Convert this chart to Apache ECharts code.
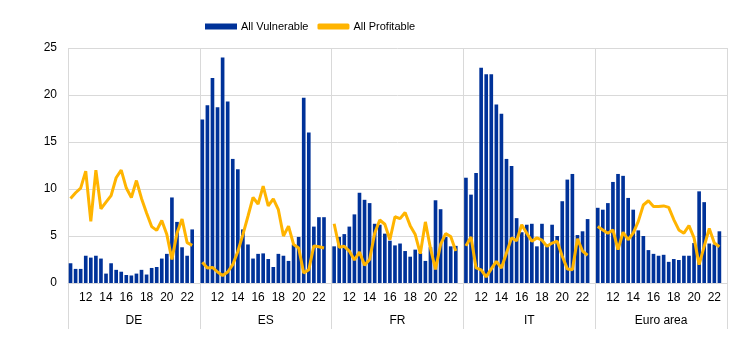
<!DOCTYPE html>
<html><head><meta charset="utf-8">
<script src="https://cdn.jsdelivr.net/npm/echarts@6/dist/echarts.min.js"></script>
<style>html,body{margin:0;padding:0;background:#fff}#c{width:744px;height:350px}</style>
</head><body><div id="c"></div>
<script>
const groups = ['DE', 'ES', 'FR', 'IT', 'Euro area'];
const periods = ['10H2','11H1','11H2','12H1','12H2','13H1','13H2','14H1','14H2','15H1','15H2','16H1','16H2',
                 '17H1','17H2','18H1','18H2','19H1','19H2','20H1','20H2','21H1','21H2','22H1','22H2'];
const yearTicks = ['12', '14', '16', '18', '20', '22'];
const yTicks = [0, 5, 10, 15, 20, 25];

const vulnDE = [2.1, 1.5, 1.5, 2.9, 2.7, 2.9, 2.6, 1.0, 2.1, 1.4, 1.2, 0.85, 0.8, 1.0, 1.4, 0.9, 1.6, 1.7, 2.6, 3.1, 9.1, 6.5, 3.8, 2.9, 5.7];
const vulnES = [17.4, 18.9, 21.8, 18.7, 24.0, 19.3, 13.2, 12.1, 5.7, 4.1, 2.6, 3.1, 3.15, 2.55, 1.7, 3.1, 2.9, 2.35, 4.1, 4.9, 19.7, 16.0, 6.0, 7.0, 7.0];
const vulnFR = [3.9, 4.9, 5.2, 6.0, 7.3, 9.6, 8.85, 8.5, 6.3, 6.2, 5.25, 4.5, 4.0, 4.2, 3.4, 2.8, 3.55, 3.2, 2.35, 3.8, 8.8, 7.85, 4.9, 3.9, 3.95];
const vulnIT = [11.2, 9.4, 11.7, 22.9, 22.2, 22.2, 19.0, 18.0, 13.2, 12.45, 6.9, 5.4, 6.2, 6.3, 3.9, 6.3, 4.1, 6.2, 5.0, 8.7, 11.0, 11.6, 5.1, 5.5, 6.8];
const vulnEA = [8.0, 7.8, 8.5, 10.75, 11.6, 11.4, 9.05, 7.8, 5.6, 5.0, 3.5, 3.1, 2.9, 3.0, 2.25, 2.55, 2.45, 2.9, 2.9, 4.25, 9.75, 8.6, 4.2, 4.1, 5.5];

const profDE = [9.0, 9.6, 10.1, 11.9, 6.55, 12.0, 7.9, 8.6, 9.3, 11.2, 12.0, 10.1, 9.1, 10.9, 9.0, 7.45, 6.0, 5.6, 6.65, 5.15, 2.5, 5.3, 6.8, 4.3, 4.0];
const profES = [2.2, 1.6, 1.65, 1.17, 0.8, 1.17, 1.95, 3.35, 5.15, 7.1, 9.1, 8.4, 10.3, 8.2, 8.95, 7.8, 5.0, 6.05, 4.1, 3.72, 1.06, 1.41, 3.95, 3.85, 3.72];
const profFR = [6.3, 3.8, 3.9, 3.4, 2.45, 3.3, 1.9, 2.5, 5.3, 6.7, 6.25, 4.6, 7.05, 6.85, 7.5, 6.1, 5.15, 3.12, 6.5, 3.7, 1.45, 4.1, 5.25, 4.95, 3.4];
const profIT = [3.95, 4.9, 1.6, 1.4, 0.65, 1.5, 2.3, 1.6, 3.2, 4.8, 4.5, 6.2, 5.3, 4.45, 4.8, 4.55, 3.9, 4.25, 4.45, 2.85, 1.5, 1.42, 4.7, 3.4, 2.95];
const profEA = [6.0, 5.65, 5.3, 5.65, 3.55, 5.4, 4.6, 5.3, 6.55, 8.3, 8.75, 8.15, 8.15, 8.2, 8.05, 6.75, 5.65, 5.3, 6.1, 4.8, 1.95, 3.9, 5.8, 4.25, 3.85];

const vulnByGroup = [vulnDE, vulnES, vulnFR, vulnIT, vulnEA];
const profByGroup = [profDE, profES, profFR, profIT, profEA];

// categories: 25 half-years per country plus one empty spacer slot
const categories = [];
const barData = [];
const lineData = [];
groups.forEach((g, gi) => {
  periods.forEach((p, pi) => {
    categories.push(g + '|' + p);
    barData.push(vulnByGroup[gi][pi]);
    lineData.push(profByGroup[gi][pi]);
  });
  categories.push(g + '|gap');
  barData.push(null);
  lineData.push(null);
});

const FONT = "'Liberation Sans Narrow', 'Liberation Sans', Arial, sans-serif";
const GRID_C = '#d9d9d9';

function isYearTick(val) {
  const p = val.split('|')[1];
  return p.endsWith('H1') && yearTicks.indexOf(p.slice(0, 2)) >= 0;
}

const chart = echarts.init(document.getElementById('c'), null, {renderer: 'canvas'});
chart.setOption({
  animation: false,
  textStyle: {fontFamily: FONT},
  legend: {
    left: 205, top: 21, padding: 0,
    itemWidth: 32, itemHeight: 6, itemGap: 9,
    textStyle: {fontFamily: FONT, fontSize: 11, color: '#000', padding: [0, 0, 0, -1]},
    data: [{name: 'All Vulnerable', icon: 'rect'}, {name: 'All Profitable', icon: 'roundRect'}]
  },
  grid: {left: 68, right: 17, top: 48, bottom: 67, containLabel: false},
  xAxis: [{
    type: 'category',
    data: categories,
    boundaryGap: true,
    axisLine: {show: true, lineStyle: {color: GRID_C, width: 1}},
    axisTick: {show: false},
    splitLine: {show: false},
    axisLabel: {
      interval: (idx, val) => isYearTick(val),
      formatter: (val) => val.split('|')[1].slice(0, 2),
      margin: 9, fontSize: 12, color: '#000', fontFamily: FONT
    }
  }, {
    type: 'category',
    data: groups,
    position: 'bottom',
    boundaryGap: true,
    axisLine: {show: false},
    axisTick: {show: true, length: 46, lineStyle: {color: GRID_C, width: 1}},
    splitLine: {show: true, lineStyle: {color: GRID_C, width: 1}},
    axisLabel: {margin: 32, fontSize: 12, color: '#000', fontFamily: FONT, interval: 0}
  }],
  yAxis: {
    type: 'value',
    min: yTicks[0], max: yTicks[yTicks.length - 1], interval: 5,
    axisLine: {show: false}, axisTick: {show: false},
    splitLine: {show: true, lineStyle: {color: GRID_C, width: 1}},
    axisLabel: {margin: 11, fontSize: 12, color: '#000', fontFamily: FONT}
  },
  series: [{
    name: 'All Vulnerable',
    type: 'bar',
    xAxisIndex: 0,
    data: barData,
    barCategoryGap: '28%',
    itemStyle: {color: '#003299'},
    z: 2
  }, {
    name: 'All Profitable',
    type: 'line',
    xAxisIndex: 0,
    data: lineData,
    symbol: 'none',
    connectNulls: false,
    lineStyle: {color: '#FFB400', width: 3},
    itemStyle: {color: '#FFB400'},
    z: 3
  }]
});
</script>
</body></html>
